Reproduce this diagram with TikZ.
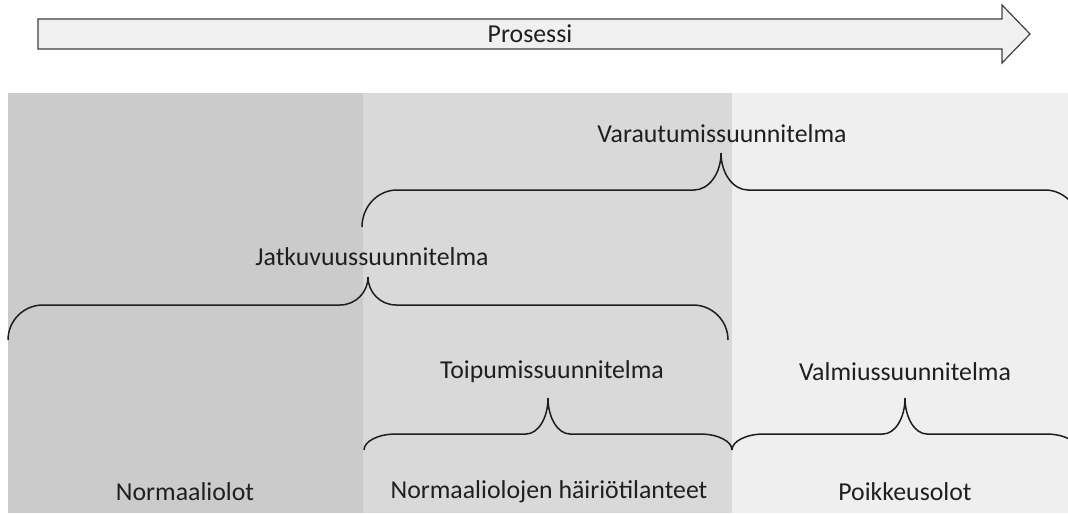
\documentclass[tikz,border=0pt]{standalone}
\usepackage{fontspec}
\setmainfont{Carlito}
\usepackage{xcolor}
\usetikzlibrary{positioning}

\definecolor{bandnormal}{HTML}{CBCBCB}
\definecolor{bandhairio}{HTML}{D9D9D9}
\definecolor{bandpoikk}{HTML}{EFEFEF}
\definecolor{txtgray}{HTML}{1F1F1F}
\definecolor{curlgray}{HTML}{1E1E1E}

% x1, xm, x2, y of ends, y of line, y of tip, end radius, tip radius
\newcommand{\plancurl}[8]{%
  \draw[curl] (#1,#4)
    .. controls ({#1},{#4-0.552*(#4-#5)}) and ({#1+0.448*#7},{#5}) .. ({#1+#7},{#5})
    -- ({#2-#8},{#5})
    .. controls ({#2-0.448*#8},{#5}) and ({#2},{#6+0.552*(#5-#6)}) .. (#2,#6)
    .. controls ({#2},{#6+0.552*(#5-#6)}) and ({#2+0.448*#8},{#5}) .. ({#2+#8},{#5})
    -- ({#3-#7},{#5})
    .. controls ({#3-0.448*#7},{#5}) and ({#3},{#4-0.552*(#4-#5)}) .. (#3,#4);}

\begin{document}
\begin{tikzpicture}[x=0.5pt, y=-0.5pt,
  lbl/.style={font=\fontsize{12.9}{15}\selectfont, text=txtgray, inner sep=0pt},
  curl/.style={draw=curlgray, line width=0.75pt},
  procarrow/.style={draw=black!75, fill=black!6, line width=0.6pt, line join=miter}
]
\useasboundingbox (0,0) rectangle (1068,513);
\clip (0,0) rectangle (1068,513);
\fill[bandnormal] (8,93)   rectangle (363,513);
\fill[bandhairio] (363,93) rectangle (732,513);
\fill[bandpoikk]  (732,93) rectangle (1068,513);
\draw[procarrow] (38,19) -- (1002,19) -- (1002,5) -- (1030,34)
  -- (1002,63) -- (1002,49) -- (38,49) -- cycle;
\node[lbl] (prosessi) at (530,34)  {Prosessi};
\node[lbl] (varaut)   at (722,134) {Varautumissuunnitelma};
\node[lbl] (jatkuv)   at (372,257) {Jatkuvuussuunnitelma};
\node[lbl] (toipum)   at (552,372) {Toipumissuunnitelma};
\node[lbl] (valmius)  at (905,372) {Valmiussuunnitelma};
\node[lbl] (normaali) at (185,492) {Normaaliolot};
\node[lbl] (hairio)   at (549,492) {Normaaliolojen häiriötilanteet};
\node[lbl] (poikkeus) at (905,492) {Poikkeusolot};
\plancurl{362}{721}{1080}{227}{190}{153}{35}{27}
\plancurl{8}{368}{728}{340}{305}{277}{35}{28}
\plancurl{364}{548}{732}{450}{434}{398}{32}{22}
\plancurl{732}{905}{1078}{450}{434}{398}{32}{22}
\end{tikzpicture}
\end{document}
